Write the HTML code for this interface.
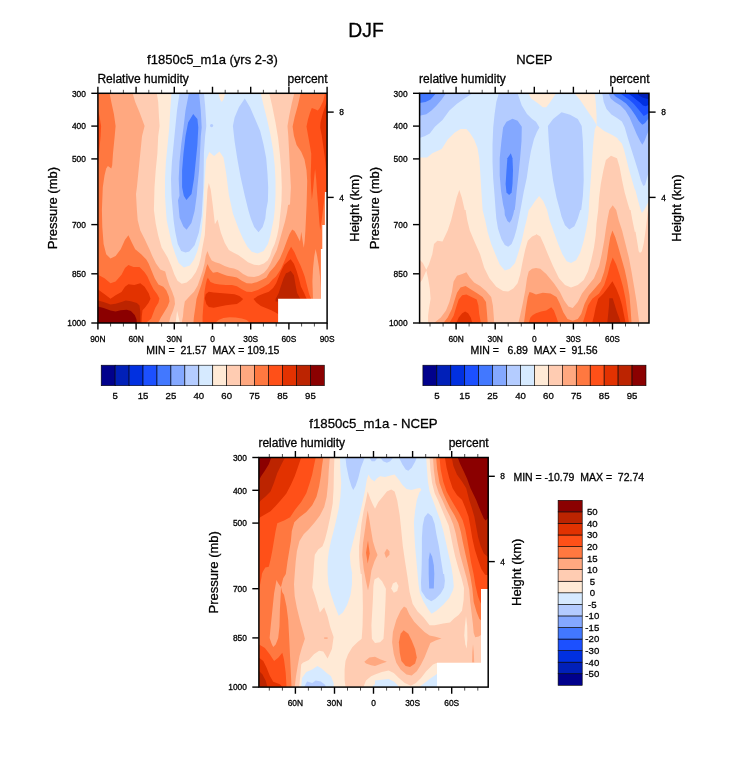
<!DOCTYPE html>
<html><head><meta charset="utf-8">
<style>
html,body{margin:0;padding:0;background:#fff;}
body{width:733px;height:784px;overflow:hidden;position:relative;font-family:"Liberation Sans",sans-serif;}
svg{position:absolute;left:0;top:0;}
text{font-family:"Liberation Sans",sans-serif;fill:#000;stroke:#000;stroke-width:0.3px;}
.fr{fill:none;stroke:#000;stroke-width:1.5}
.tk{stroke:#000;stroke-width:1.4;fill:none}
.tkm{stroke:#000;stroke-width:0.7;fill:none}
</style></head><body>
<svg width="733" height="784" viewBox="0 0 733 784">
<defs>
<clipPath id="c1"><rect x="98" y="93" width="229" height="230"/></clipPath>
<clipPath id="c2"><rect x="419.5" y="93" width="229.5" height="230"/></clipPath>
<clipPath id="c3"><rect x="259" y="457.4" width="229" height="229.6"/></clipPath>
</defs>
<g clip-path="url(#c1)" shape-rendering="geometricPrecision">
<rect x="98" y="93" width="229" height="230" fill="#ffead6"/>
<path fill="#ffccb2" d="M156.8,93.2 L158.2,102.1 L159.1,119.1 L159.6,125.9 L158.2,136.2 L157.4,153.2 L155.7,170.3 L154.5,187.3 L153.9,210.0 L155.7,223.6 L158.2,235.6 L161.6,247.5 L167.6,257.4 L171.3,266.0 L174.4,274.6 L177.5,280.7 L181.7,283.8 L186.7,282.5 L191.6,278.2 L195.9,272.1 L198.9,264.7 L200.8,257.4 L202.0,250.0 L204.8,235.1 L206.1,213.6 L207.5,189.6 L208.8,182.9 L210.7,189.6 L212.8,205.6 L214.9,224.3 L217.6,219.5 L220.8,232.4 L224.8,243.1 L228.9,250.0 L233.2,252.5 L238.2,254.9 L243.1,258.6 L248.0,262.3 L254.1,264.7 L259.0,265.3 L263.9,263.5 L267.6,260.4 L270.1,256.1 L271.9,250.0 L274.7,244.1 L277.2,235.6 L278.9,227.1 L279.8,218.5 L280.7,210.0 L281.5,201.0 L281.8,187.3 L281.2,170.3 L279.8,153.2 L278.1,137.9 L275.5,122.5 L272.1,105.5 L269.2,93.2 L327.0,93.0 L327.0,323.0 L98.0,323.0 L98.0,93.0Z"/>
<path fill="#ffa880" d="M132.6,93.2 L135.2,102.1 L139.5,112.3 L144.6,125.9 L142.0,136.2 L140.3,153.2 L138.6,170.3 L136.9,187.3 L136.0,194.1 L136.9,210.0 L137.7,220.2 L140.3,230.5 L144.6,239.0 L149.8,250.0 L152.3,256.1 L156.0,263.5 L160.3,269.6 L165.2,271.5 L167.0,278.2 L169.5,285.6 L172.2,291.7 L174.4,297.9 L175.0,304.0 L173.2,310.2 L170.7,316.3 L168.9,322.7 L98.0,323.0 L98.0,93.0Z"/>
<path fill="#ffa880" d="M181.7,322.7 L183.0,316.3 L183.6,308.9 L184.8,301.6 L189.1,296.7 L194.0,291.7 L197.7,285.6 L200.2,278.2 L202.6,270.9 L204.5,263.5 L205.7,256.1 L207.3,251.2 L207.5,251.2 L209.3,256.1 L211.8,260.4 L215.4,262.3 L219.7,263.5 L224.6,266.0 L229.6,267.8 L233.9,268.4 L238.2,270.3 L243.1,273.9 L248.0,276.4 L254.1,277.0 L259.0,275.8 L263.9,272.7 L267.6,268.4 L270.7,262.9 L273.1,257.4 L275.6,252.5 L276.8,250.0 L279.9,239.4 L282.4,230.5 L285.0,221.6 L286.9,212.7 L288.1,205.0 L290.0,204.4 L290.9,187.3 L290.0,170.3 L289.2,153.2 L288.3,136.2 L287.5,125.9 L289.2,115.7 L291.7,103.8 L294.3,93.2 L327.0,93.0 L327.0,323.0Z"/>
<path fill="#ff7840" d="M109.6,93.2 L111.3,102.1 L113.9,114.0 L115.6,125.9 L114.7,136.2 L113.0,153.2 L112.2,165.2 L111.3,168.6 L107.9,166.0 L106.2,168.6 L104.5,175.4 L102.8,187.3 L101.9,210.0 L102.3,227.1 L103.6,244.1 L106.2,254.3 L110.5,258.6 L115.6,256.0 L120.7,249.2 L125.0,239.8 L128.4,235.2 L131.8,242.4 L135.2,249.2 L141.2,254.3 L146.3,259.5 L148.6,263.5 L151.7,270.9 L154.7,278.2 L158.4,284.4 L163.3,286.8 L166.4,290.5 L168.9,296.7 L169.5,301.6 L167.6,306.5 L164.6,311.4 L160.9,317.5 L158.2,322.7 L98.0,323.0 L98.0,93.0Z"/>
<path fill="#ff7840" d="M193.4,322.7 L194.0,316.3 L195.3,307.7 L196.5,299.1 L198.9,291.7 L201.4,284.4 L203.2,278.2 L205.1,272.1 L206.3,267.2 L207.3,264.7 L207.5,264.1 L209.9,269.0 L213.0,272.7 L217.3,272.1 L222.2,273.9 L227.1,275.8 L232.0,276.4 L236.9,277.6 L241.8,280.7 L246.7,283.2 L251.7,283.4 L256.6,282.2 L261.5,280.1 L266.4,277.6 L269.7,272.0 L274.8,266.2 L279.9,258.6 L283.7,249.6 L286.9,240.7 L289.4,234.3 L292.2,229.6 L294.5,231.1 L296.4,234.3 L298.4,238.2 L300.0,241.4 L300.6,236.9 L301.3,231.8 L301.8,235.6 L302.8,242.0 L303.8,247.7 L304.7,240.7 L305.4,230.5 L306.0,217.8 L306.6,205.0 L307.2,180.9 L306.5,170.2 L304.5,159.6 L301.2,151.7 L296.6,145.0 L293.9,135.8 L292.6,126.5 L294.6,117.2 L297.9,105.2 L300.6,93.3 L327.0,93.0 L327.0,323.0Z"/>
<path fill="#ffa880" d="M315.6,249.0 L314.3,256.0 L313.0,268.8 L312.4,281.5 L313.0,298.8 L320.7,298.8 L320.7,287.9 L320.0,276.4 L318.8,266.2 L317.1,256.0Z"/>
<path fill="#ff5018" d="M97.7,108.9 L99.4,115.7 L101.1,125.9 L100.6,136.2 L99.4,149.8 L98.2,163.4 L97.7,166.9Z"/>
<path fill="#ff5018" d="M97.7,274.5 L104.5,278.2 L110.5,283.3 L115.6,281.6 L121.5,274.8 L125.0,268.0 L128.4,264.9 L133.5,267.1 L139.5,267.1 L144.6,272.2 L147.4,276.4 L150.4,283.2 L153.5,289.3 L157.2,294.2 L159.4,298.5 L158.4,302.8 L155.3,307.7 L152.9,313.9 L151.1,318.8 L146.1,322.7 L98.0,323.0Z"/>
<path fill="#ff5018" d="M202.6,322.7 L202.6,316.3 L203.2,307.7 L203.9,299.1 L204.5,291.7 L205.7,284.4 L206.9,279.5 L208.1,277.6 L207.7,277.6 L210.5,281.9 L214.8,283.8 L219.7,284.4 L225.9,285.0 L232.0,285.0 L236.9,286.2 L241.8,289.3 L246.7,291.7 L251.7,292.0 L257.8,289.9 L263.9,286.8 L268.9,283.8 L272.5,279.5 L276.0,276.4 L281.1,268.8 L285.0,259.8 L288.1,252.2 L291.1,246.8 L294.5,252.2 L297.1,258.6 L300.3,264.9 L302.8,271.3 L304.7,276.4 L306.6,284.1 L309.2,294.3 L311.1,298.8 L311.1,326.2Z"/>
<path fill="#ff7840" d="M215.4,322.7 L218.5,320.0 L223.4,318.1 L229.6,317.3 L235.7,317.5 L241.8,318.5 L246.7,320.0 L249.8,322.7Z"/>
<path fill="#ff5018" d="M325.1,93.3 L323.1,101.3 L319.8,107.9 L317.8,110.6 L315.2,109.2 L311.8,107.9 L309.8,113.2 L307.9,119.8 L306.5,126.5 L307.9,134.4 L309.8,145.0 L311.8,157.0 L312.5,167.6 L311.3,150.0 L311.1,162.8 L310.7,175.5 L311.1,188.3 L311.9,199.7 L313.2,188.3 L314.1,178.1 L315.1,169.1 L316.2,179.3 L317.0,192.1 L318.3,207.4 L319.3,221.4 L320.2,230.4 L321.5,221.4 L322.8,211.2 L324.1,201.0 L325.1,192.1 L327.0,192.0 L327.0,93.0Z"/>
<path fill="#e23200" d="M327.2,99.9 L325.1,106.6 L322.5,114.5 L320.5,122.5 L320.2,127.8 L321.8,135.8 L323.1,145.0 L324.4,154.3 L325.4,162.3 L326.0,170.2 L326.4,180.9 L326.8,192.0 L327.8,192.0Z"/>
<path fill="#e23200" d="M97.7,289.3 L103.6,293.6 L110.5,298.7 L115.6,295.3 L121.5,291.9 L125.0,286.7 L128.4,284.2 L134.3,285.0 L140.3,283.3 L144.6,286.7 L148.8,293.6 L150.5,298.7 L148.6,302.8 L144.9,307.7 L142.5,310.2 L141.8,316.3 L141.5,322.7 L98.0,323.0Z"/>
<path fill="#bc2400" d="M97.7,300.4 L103.6,302.1 L110.5,304.6 L115.6,303.8 L121.5,302.1 L125.8,300.4 L130.9,301.2 L136.9,302.9 L139.5,305.5 L140.3,312.3 L140.3,322.9 L97.7,322.9Z"/>
<path fill="#8b0000" d="M97.7,306.4 L103.6,308.1 L110.5,310.6 L115.6,311.5 L120.7,310.3 L126.7,309.8 L130.9,311.0 L134.7,314.9 L136.4,319.1 L136.9,322.9 L97.7,322.9Z"/>
<path fill="#e23200" d="M204.8,298.5 L205.7,294.2 L208.8,291.7 L213.7,292.4 L219.8,293.0 L226.0,293.6 L234.5,294.2 L239.4,296.0 L243.1,299.1 L240.6,301.6 L236.9,304.0 L232.0,304.6 L226.0,305.3 L219.8,306.5 L213.7,307.7 L208.8,307.1 L206.3,304.0Z"/>
<path fill="#e23200" d="M253.5,299.1 L257.8,296.0 L263.9,293.6 L268.9,291.7 L273.1,288.1 L276.2,283.2 L278.7,277.0 L281.1,270.9 L284.2,264.7 L288.4,261.1 L290.7,259.2 L293.9,263.7 L296.7,271.3 L299.0,279.0 L300.9,286.6 L304.1,293.0 L306.6,298.8 L306.6,313.4 L278.1,313.9 L275.6,312.6 L271.3,310.2 L266.4,308.3 L260.9,305.9 L256.6,302.8Z"/>
<path fill="#bc2400" d="M275.6,298.9 L278.7,293.0 L281.1,285.6 L283.6,278.2 L286.0,273.3 L288.1,272.6 L290.7,270.7 L293.9,275.2 L295.4,284.1 L297.1,293.0 L300.3,298.8 L300.3,301.9 L275.6,301.6Z"/>
<path fill="#d6eaff" d="M171.5,93.2 L170.2,110.6 L169.3,127.6 L167.6,144.7 L165.9,161.7 L165.0,178.8 L165.0,195.8 L165.9,210.0 L166.7,220.2 L169.3,232.2 L171.9,244.1 L175.3,254.3 L178.7,262.9 L183.8,267.6 L189.8,265.4 L194.0,259.5 L197.4,250.9 L200.0,240.7 L201.7,230.5 L202.6,220.2 L203.4,210.0 L204.2,186.9 L206.1,160.1 L209.3,152.1 L214.1,156.1 L219.5,151.6 L223.5,157.5 L226.2,173.5 L228.9,194.9 L232.9,213.6 L238.9,229.6 L243.1,239.0 L247.4,246.7 L251.7,251.8 L257.6,253.5 L263.6,250.9 L267.9,244.1 L270.4,235.6 L272.1,227.1 L273.8,218.5 L274.7,210.0 L275.5,195.8 L275.5,180.5 L274.7,165.2 L273.0,149.8 L270.4,134.5 L267.0,119.1 L263.6,105.5 L260.7,93.2Z"/>
<path fill="#b4ccff" d="M179.5,93.2 L177.0,110.6 L175.3,127.6 L173.6,144.7 L171.9,161.7 L171.0,178.8 L171.5,195.8 L172.7,210.0 L173.6,220.2 L175.3,232.2 L177.8,244.1 L181.2,250.9 L185.5,252.6 L189.3,251.6 L194.6,245.2 L198.9,232.4 L201.6,216.3 L202.6,200.3 L203.4,186.9 L203.7,170.8 L203.9,153.2 L205.1,136.2 L206.3,125.9 L206.0,119.1 L205.1,105.5 L203.9,93.2Z"/>
<path fill="#84a8ff" d="M188.9,93.2 L185.5,110.6 L183.5,127.6 L181.2,144.7 L179.5,161.7 L178.7,178.8 L179.5,195.8 L178.0,200.3 L179.6,217.7 L183.4,226.5 L186.6,229.7 L191.4,223.0 L194.6,211.0 L196.8,194.9 L197.4,187.3 L199.1,170.3 L200.0,153.2 L200.8,136.2 L201.7,127.6 L200.8,110.6 L199.1,93.2Z"/>
<path fill="#4278ff" d="M193.2,114.0 L188.1,122.5 L185.5,136.2 L183.5,153.2 L182.1,170.3 L182.1,187.3 L183.8,195.8 L186.4,200.1 L191.5,194.1 L194.0,178.8 L195.7,161.7 L197.4,144.7 L198.3,127.6 L197.4,119.1Z"/>
<path fill="#b4ccff" d="M244.8,98.6 L238.9,107.2 L234.6,117.4 L232.9,125.9 L234.6,141.3 L237.2,158.3 L240.6,177.1 L244.8,195.8 L248.3,210.0 L250.8,218.5 L254.2,227.1 L258.5,232.2 L262.7,227.1 L265.3,218.5 L266.2,210.0 L267.9,201.0 L268.2,187.3 L267.5,173.7 L266.2,158.3 L263.6,144.7 L260.2,131.0 L255.1,119.1 L250.0,107.2Z"/>
<path fill="#ffead6" d="M177.1,310.8 L175.6,322.7 L179.9,322.7Z"/>
<path fill="#ffead6" d="M218.4,93.2 L220.1,99.5 L221.8,102.1 L223.5,99.5 L225.2,93.2Z"/>
<circle cx="211.6" cy="125.6" r="1.6" fill="#b4ccff"/>
<path fill="#fff" d="M278.1,298.8H320.9V249H322.3V225H324.9V192H328V324H278.1Z"/>
</g>
<g clip-path="url(#c2)">
<rect x="419.5" y="93" width="229.5" height="230" fill="#ffead6"/>
<path fill="#ffccb2" d="M419.5,259.5 L422.9,262.9 L426.3,269.7 L428.9,264.6 L432.3,254.3 L434.0,244.1 L437.4,240.7 L442.5,241.5 L447.7,230.5 L451.1,220.2 L453.6,210.0 L456.7,197.6 L459.3,189.9 L461.8,197.6 L464.7,210.0 L465.6,210.0 L467.3,220.2 L469.8,230.5 L474.9,242.4 L480.1,254.3 L484.3,268.0 L489.4,278.2 L496.3,286.7 L503.1,291.0 L508.2,291.5 L513.3,288.4 L517.6,283.3 L520.1,274.8 L522.7,261.2 L525.3,249.2 L527.8,240.7 L532.1,236.4 L536.0,234.7 L536.0,233.9 L540.3,236.4 L543.7,244.1 L547.9,254.3 L553.1,266.3 L559.0,278.2 L565.0,285.0 L571.0,287.6 L577.8,285.0 L583.7,279.9 L588.0,271.4 L591.4,259.5 L594.0,247.5 L595.7,235.6 L596.5,223.6 L598.2,210.0 L598.2,210.0 L599.1,197.6 L600.8,183.9 L603.4,170.3 L605.9,160.0 L611.0,155.8 L617.0,158.3 L619.6,166.9 L622.1,180.5 L624.7,192.4 L628.1,204.4 L629.8,210.0 L630.6,210.0 L632.4,220.2 L634.9,232.2 L635.5,231.4 L637.4,242.9 L638.7,251.2 L640.0,253.1 L641.9,251.2 L643.8,242.9 L645.1,234.0 L646.4,223.8 L647.6,213.6 L648.9,204.6 L649.0,323.0 L428.1,322.9 L428.1,315.7 L428.9,308.9 L430.6,298.7 L429.8,288.4 L428.1,278.2 L426.3,270.5 L422.1,279.9 L419.5,283.3Z"/>
<path fill="#ffa880" d="M434.0,322.9 L440.8,317.4 L446.0,310.6 L449.4,302.1 L451.9,291.9 L453.6,281.6 L457.0,275.7 L462.2,273.9 L466.4,272.2 L469.8,277.4 L474.1,282.5 L480.1,285.9 L486.0,291.0 L491.2,297.0 L492.9,305.5 L493.7,315.7 L494.2,322.9Z"/>
<path fill="#ffa880" d="M518.4,322.9 L520.1,315.7 L522.7,303.8 L525.3,290.2 L527.0,278.2 L528.7,271.4 L532.1,268.8 L536.0,268.0 L540.3,268.8 L546.2,273.9 L553.9,283.3 L559.9,291.9 L564.1,300.4 L568.4,306.4 L572.7,308.1 L577.8,302.1 L582.0,293.6 L587.2,286.7 L594.0,278.2 L599.1,266.3 L601.7,254.3 L604.2,240.7 L605.9,228.8 L607.6,218.5 L609.3,210.0 L609.3,210.0 L612.7,205.2 L616.2,210.0 L618.7,220.2 L622.1,230.5 L625.5,244.1 L628.9,257.7 L631.5,271.4 L634.1,286.7 L636.6,302.1 L638.3,315.7 L639.2,322.6Z"/>
<path fill="#ff7840" d="M443.4,322.9 L447.7,317.4 L451.9,308.9 L454.5,300.4 L457.0,292.7 L460.5,287.6 L465.6,285.9 L470.7,289.3 L477.5,293.6 L482.6,297.0 L486.0,302.1 L486.9,312.3 L487.7,322.9Z"/>
<path fill="#ff7840" d="M523.9,322.9 L524.9,315.7 L526.1,307.2 L527.8,297.0 L529.5,291.9 L532.1,292.7 L536.0,294.4 L542.8,292.7 L550.5,293.6 L556.5,297.0 L559.9,303.8 L563.3,312.3 L567.5,319.1 L572.7,320.8 L577.8,319.1 L581.2,314.0 L584.6,303.8 L588.9,295.3 L594.8,288.4 L600.8,281.6 L604.2,271.4 L606.8,259.5 L608.5,247.5 L610.2,237.3 L612.4,230.5 L615.3,237.3 L617.9,245.8 L621.3,257.7 L624.7,269.7 L627.2,281.6 L629.5,295.3 L630.6,308.9 L631.5,322.6Z"/>
<path fill="#ff5018" d="M449.4,322.9 L453.6,315.7 L456.2,307.2 L458.7,299.5 L462.2,295.3 L466.4,294.4 L471.5,297.0 L476.7,299.5 L478.4,305.5 L479.2,314.0 L480.9,322.9Z"/>
<path fill="#ff5018" d="M528.7,322.9 L530.4,317.4 L532.9,314.9 L536.0,313.2 L541.1,311.5 L546.2,310.6 L551.3,307.2 L553.9,310.6 L556.5,317.4 L558.2,322.6Z"/>
<path fill="#ff5018" d="M582.9,322.6 L585.5,314.0 L588.0,305.5 L592.3,298.7 L599.1,293.6 L604.2,285.0 L607.6,274.8 L610.2,264.6 L612.7,257.4 L616.2,264.6 L619.6,274.8 L623.0,286.7 L625.5,298.7 L627.2,310.6 L628.9,322.6Z"/>
<path fill="#e23200" d="M456.2,322.9 L458.7,317.4 L462.2,313.2 L465.2,311.5 L468.1,313.2 L470.7,317.4 L472.4,322.9Z"/>
<path fill="#e23200" d="M592.3,322.6 L594.0,315.7 L595.7,307.2 L598.2,298.7 L603.4,293.6 L608.5,286.7 L612.4,281.3 L616.2,288.4 L619.6,297.0 L622.1,305.5 L623.8,314.0 L625.5,322.6Z"/>
<path fill="#bc2400" d="M607.3,322.6 L608.0,315.7 L609.0,305.5 L609.3,298.3 L612.7,298.3 L614.4,303.8 L617.0,312.3 L619.6,319.1 L620.4,322.6Z"/>
<path fill="#d6eaff" d="M419.5,157.5 L427.2,157.5 L432.3,153.2 L441.7,148.9 L447.7,139.6 L454.5,132.7 L460.5,129.0 L466.4,129.0 L469.8,132.7 L474.1,139.6 L477.5,148.1 L479.2,158.3 L480.1,170.3 L481.1,187.3 L482.6,210.0 L485.2,220.2 L487.7,232.2 L491.2,244.1 L495.4,254.3 L499.7,264.6 L504.8,270.5 L509.9,268.8 L515.0,262.9 L518.4,252.6 L521.8,240.7 L524.4,228.8 L527.0,218.5 L528.7,210.0 L531.2,206.9 L534.6,201.8 L539.1,196.0 L543.2,201.1 L547.1,210.0 L549.6,220.2 L553.9,232.2 L558.2,244.1 L562.4,254.3 L566.7,261.2 L571.0,262.9 L576.1,260.3 L580.3,252.6 L583.7,240.7 L586.3,228.8 L588.0,218.5 L588.9,210.0 L588.7,210.0 L589.2,201.0 L590.2,187.3 L591.4,170.3 L592.3,156.6 L593.5,141.3 L594.8,129.3 L596.7,125.2 L593.1,119.1 L587.2,110.6 L580.3,100.3 L574.4,93.2 L556.1,93.2 L553.1,97.8 L549.6,102.9 L546.2,107.2 L542.8,107.2 L538.6,103.8 L531.2,98.6 L528.3,93.2 L419.5,93.2Z"/>
<path fill="#d6eaff" d="M596.7,125.2 L604.2,131.0 L612.7,135.3 L619.6,139.6 L617.0,138.5 L621.9,143.4 L624.0,149.7 L626.1,158.1 L628.9,169.3 L631.7,179.1 L634.6,188.9 L635.5,190.6 L638.1,200.8 L640.6,209.7 L641.9,212.9 L643.8,210.4 L646.4,205.9 L648.9,200.8 L649.0,93.0 L594.8,93.2 L595.7,102.1 L596.5,114.0Z"/>
<path fill="#b4ccff" d="M419.5,137.9 L424.6,136.2 L429.8,133.6 L434.9,126.8 L442.5,120.0 L449.4,110.6 L457.0,103.8 L465.6,97.8 L470.7,94.4 L472.4,93.2 L419.5,93.2Z"/>
<path fill="#b4ccff" d="M498.8,93.2 L496.3,102.1 L494.6,114.0 L493.2,127.6 L492.5,144.7 L492.5,161.7 L493.2,178.8 L494.6,195.8 L495.6,210.0 L496.3,218.5 L498.0,228.8 L501.4,239.0 L504.8,245.0 L508.2,246.7 L511.6,244.1 L514.3,237.3 L516.7,228.8 L518.8,218.5 L520.7,208.5 L523.7,191.9 L526.8,177.8 L528.8,163.4 L530.9,151.2 L534.0,139.1 L536.9,131.9 L539.4,127.6 L536.0,121.7 L532.1,119.1 L527.0,114.0 L521.8,105.5 L517.6,93.2Z"/>
<path fill="#b4ccff" d="M561.6,112.3 L553.1,119.1 L547.9,125.9 L548.8,141.3 L550.5,161.7 L553.1,180.5 L556.5,197.6 L559.9,210.0 L561.6,216.8 L565.0,225.3 L569.3,229.6 L574.4,226.2 L577.8,218.5 L580.3,210.0 L581.2,210.0 L582.9,195.8 L583.7,180.5 L583.4,161.7 L582.9,141.3 L581.7,125.9 L577.8,119.1 L570.1,114.8Z"/>
<path fill="#b4ccff" d="M602.3,93.6 L603.7,102.0 L606.5,109.0 L611.4,114.6 L617.0,118.1 L621.9,121.6 L624.7,127.3 L627.5,137.1 L631.0,148.3 L634.6,159.5 L638.1,170.7 L640.9,180.5 L642.5,184.2 L643.4,186.1 L645.1,184.9 L647.0,177.9 L648.9,171.5 L649.0,93.0Z"/>
<path fill="#84a8ff" d="M419.5,115.7 L426.3,114.3 L431.5,110.6 L436.6,105.5 L441.7,99.5 L445.1,94.4 L446.0,93.2 L419.5,93.2Z"/>
<path fill="#84a8ff" d="M512.5,118.8 L506.5,121.7 L503.1,127.6 L501.4,141.3 L499.7,158.3 L499.7,175.4 L501.0,190.7 L503.1,204.4 L504.5,210.0 L504.8,215.1 L507.4,221.1 L509.6,222.8 L511.6,219.4 L513.3,214.3 L514.2,210.0 L514.7,210.0 L515.4,204.4 L516.7,190.7 L518.4,175.4 L520.1,158.3 L521.5,141.3 L521.8,126.8 L517.6,120.8Z"/>
<path fill="#84a8ff" d="M608.6,93.6 L610.7,98.5 L614.9,102.0 L620.5,105.5 L625.4,110.4 L629.6,117.4 L633.2,125.9 L636.7,134.3 L640.2,141.3 L642.3,144.8 L644.4,141.3 L646.5,135.7 L649.0,130.1 L649.0,93.6Z"/>
<path fill="#4278ff" d="M419.5,102.9 L425.5,102.1 L430.6,99.5 L434.9,94.4 L435.7,93.2 L419.5,93.2Z"/>
<path fill="#4278ff" d="M510.8,153.2 L507.4,158.3 L506.5,170.3 L505.6,183.9 L506.5,192.4 L509.1,195.0 L511.6,192.4 L512.5,183.9 L513.0,170.3 L512.5,158.3Z"/>
<path fill="#4278ff" d="M612.8,93.6 L615.6,96.4 L621.2,99.9 L626.1,103.4 L631.0,109.0 L635.3,115.3 L638.8,120.9 L642.3,124.7 L645.1,123.0 L647.2,120.2 L649.0,118.1 L649.0,93.6Z"/>
<path fill="#1c50ff" d="M620.5,93.6 L624.7,96.4 L629.6,99.9 L633.9,104.1 L638.1,109.0 L641.6,113.2 L643.7,116.0 L646.5,114.6 L649.0,112.5 L649.0,93.6Z"/>
<path fill="#0030e0" d="M628.2,93.6 L632.5,96.4 L636.7,99.9 L640.2,102.7 L643.0,105.5 L645.8,106.2 L649.0,104.8 L649.0,93.6Z"/>
<path fill="#0020b8" d="M636.7,93.6 L639.5,95.7 L643.0,97.8 L645.8,98.5 L649.0,99.2 L649.0,93.6Z"/>
</g>
<g clip-path="url(#c3)">
<rect x="259" y="457.4" width="229" height="229.6" fill="#ffccb2"/>
<path fill="#ffead6" d="M334.4,457.5 L333.9,471.2 L333.6,488.2 L332.7,503.6 L330.2,517.2 L327.6,529.2 L325.0,539.4 L322.5,546.2 L318.2,549.6 L314.8,554.7 L313.9,565.0 L313.4,574.0 L312.2,587.6 L315.7,597.9 L319.9,612.4 L324.2,607.3 L327.6,616.6 L330.2,626.9 L333.6,637.1 L331.9,649.0 L327.6,658.4 L323.3,651.6 L319.1,650.7 L313.9,654.2 L308.8,660.1 L302.9,662.7 L301.2,664.4 L300.3,676.3 L299.1,686.9 L345.5,686.9 L344.6,679.7 L344.6,669.5 L345.5,661.0 L348.1,654.2 L352.3,647.3 L357.4,642.2 L361.7,638.8 L362.6,625.2 L362.9,608.1 L362.6,591.1 L361.7,574.0 L360.8,574.0 L359.8,566.7 L359.1,556.4 L359.1,546.2 L360.2,536.0 L361.4,524.0 L363.4,512.1 L366.0,500.2 L367.7,491.6 L370.2,498.5 L372.8,504.4 L375.0,508.7 L378.4,501.9 L382.7,496.7 L386.9,491.6 L391.2,489.6 L394.6,491.6 L397.2,500.2 L399.7,515.3 L401.3,530.7 L402.8,545.9 L405.0,561.2 L407.4,576.6 L409.6,591.9 L412.7,604.0 L417.6,611.5 L423.6,617.5 L429.6,625.2 L434.7,625.2 L443.2,623.5 L450.0,622.6 L454.3,618.3 L458.6,614.9 L462.0,610.7 L463.7,599.6 L464.0,588.1 L461.5,577.9 L458.3,567.7 L455.1,556.2 L452.6,544.7 L450.6,534.5 L448.7,525.5 L445.5,517.9 L441.7,508.9 L437.9,500.0 L434.7,493.3 L432.1,483.1 L430.4,469.5 L429.6,457.5Z"/>
<path fill="#ffead6" d="M378.3,577.3 L374.5,579.6 L373.4,585.8 L372.9,599.5 L371.4,625.2 L371.9,638.8 L375.0,643.1 L380.1,642.2 L383.5,638.8 L384.4,625.2 L385.2,608.1 L385.6,599.6 L385.9,588.8 L382.1,581.2Z"/>
<path fill="#ffead6" d="M391.2,588.5 L392.9,583.4 L396.3,581.7 L398.5,585.9 L397.2,591.1 L393.8,592.8Z"/>
<path fill="#ffead6" d="M363.4,686.9 L366.0,680.6 L371.1,676.3 L375.0,674.6 L381.8,672.1 L388.6,670.4 L393.8,672.9 L398.9,678.0 L404.8,683.1 L410.8,685.7 L415.9,683.1 L421.0,678.0 L426.2,671.2 L433.0,664.4 L437.2,662.7 L437.2,686.9Z"/>
<path fill="#ffead6" d="M466.0,616.1 L464.9,625.9 L464.3,635.8 L465.3,644.2 L466.7,648.4 L467.4,638.6 L467.2,625.9Z"/>
<path fill="#d6eaff" d="M340.0,457.5 L340.4,471.2 L341.2,483.1 L340.4,496.7 L338.7,508.7 L336.1,520.6 L333.6,530.9 L331.0,541.1 L328.8,551.3 L327.6,561.6 L327.6,574.0 L328.4,584.2 L331.0,594.5 L334.4,604.7 L338.7,615.8 L342.9,612.4 L347.2,604.7 L350.6,594.5 L352.0,584.2 L352.0,574.0 L352.3,574.0 L350.6,565.0 L349.8,554.7 L352.3,544.5 L354.9,534.3 L357.4,524.0 L360.0,513.8 L362.6,501.9 L365.1,489.9 L366.8,479.7 L368.5,474.6 L370.9,479.0 L374.5,481.4 L377.0,478.3 L380.1,476.3 L385.2,477.1 L390.3,475.4 L394.6,474.6 L398.9,479.7 L402.3,484.8 L406.5,489.1 L411.7,489.9 L416.8,488.6 L420.2,487.9 L421.4,489.9 L419.3,492.5 L416.8,500.2 L415.1,510.4 L413.9,522.3 L414.4,534.3 L415.2,547.9 L416.3,559.8 L417.6,574.0 L418.5,584.2 L419.8,592.8 L423.3,601.3 L428.5,609.8 L431.6,613.7 L436.4,610.7 L443.2,604.7 L449.2,597.9 L452.6,591.1 L453.8,586.8 L452.9,576.6 L451.3,566.4 L448.7,554.9 L446.2,543.4 L443.6,531.9 L440.4,520.4 L436.6,510.2 L432.8,500.0 L429.6,491.6 L427.9,481.4 L427.0,469.5 L426.2,457.5Z"/>
<path fill="#d6eaff" d="M301.2,686.9 L302.0,678.0 L306.3,672.1 L312.2,669.5 L317.4,666.1 L321.6,668.6 L326.7,672.9 L331.0,676.3 L333.6,683.1 L333.6,686.9Z"/>
<path fill="#d6eaff" d="M371.9,686.9 L375.0,684.0 L375.0,680.6 L381.8,679.7 L388.6,678.9 L393.8,681.4 L397.2,684.8 L398.9,686.9Z"/>
<path fill="#d6eaff" d="M419.3,686.9 L424.5,683.1 L429.6,678.9 L434.7,675.5 L437.2,673.8 L437.2,686.9Z"/>
<path fill="#b4ccff" d="M345.5,457.5 L346.4,466.1 L348.9,478.0 L351.5,486.5 L353.2,489.9 L355.7,485.7 L358.3,478.0 L360.8,467.8 L363.4,460.9 L364.6,457.5Z"/>
<path fill="#b4ccff" d="M369.2,457.5 L371.7,461.3 L374.9,461.3 L377.9,457.5Z"/>
<path fill="#b4ccff" d="M380.2,457.5 L383.1,461.3 L386.9,462.7 L390.2,461.3 L393.2,457.5Z"/>
<path fill="#b4ccff" d="M398.9,457.5 L402.3,464.3 L405.7,469.5 L408.3,470.8 L411.7,467.8 L415.1,461.8 L416.8,457.5Z"/>
<path fill="#b4ccff" d="M427.9,512.9 L424.5,517.2 L422.7,525.7 L421.9,537.7 L421.9,551.3 L421.7,565.0 L421.4,574.0 L421.0,582.5 L421.4,591.1 L426.2,598.2 L431.3,601.3 L435.5,598.7 L440.7,593.6 L444.1,587.6 L444.9,580.8 L444.1,574.0 L443.2,574.0 L442.4,568.4 L440.7,558.1 L438.9,546.2 L436.4,534.3 L434.7,524.0 L432.1,516.4Z"/>
<path fill="#b4ccff" d="M304.2,686.9 L307.1,681.4 L312.2,683.1 L315.7,680.6 L320.8,681.4 L325.0,684.8 L325.9,686.9Z"/>
<path fill="#84a8ff" d="M429.9,552.2 L428.7,559.8 L428.7,574.0 L429.2,588.5 L433.8,588.5 L434.3,574.0 L434.3,574.0 L433.8,565.0 L432.1,556.4Z"/>
<path fill="#ffa880" d="M329.8,457.5 L328.8,469.5 L328.1,483.1 L326.7,496.7 L324.2,507.0 L319.9,515.5 L314.8,522.3 L308.8,529.2 L303.7,534.3 L299.5,541.1 L296.9,551.3 L295.7,561.6 L294.7,574.0 L294.0,584.2 L294.7,596.2 L296.9,608.1 L300.3,621.7 L303.7,633.7 L304.9,638.8 L302.0,647.3 L299.5,655.9 L297.7,666.1 L296.0,676.3 L294.7,686.9 L259.0,687.0 L259.0,457.4Z"/>
<path fill="#ffa880" d="M367.7,510.4 L366.3,519.9 L365.3,527.6 L363.0,542.9 L362.2,555.1 L363.7,568.9 L366.0,581.2 L368.0,590.4 L369.9,581.2 L371.4,570.4 L374.5,561.3 L377.5,555.1 L375.2,549.0 L372.9,541.3 L370.6,527.6 L369.4,519.9Z"/>
<path fill="#ff7840" d="M368.0,540.6 L366.0,552.8 L367.7,563.6 L369.7,553.6Z"/>
<path fill="#ffa880" d="M386.9,548.8 L384.4,553.0 L386.1,558.1 L389.5,554.7 L389.5,551.3Z"/>
<path fill="#ffa880" d="M364.3,661.8 L369.4,657.6 L375.0,656.7 L380.1,659.3 L386.9,661.8 L381.8,663.5 L375.0,666.1 L371.1,665.2 L366.0,663.5Z"/>
<path fill="#ffa880" d="M404.0,606.4 L400.6,610.7 L396.3,620.0 L392.9,632.0 L392.1,642.2 L393.8,654.2 L396.3,662.7 L400.6,669.5 L406.5,674.6 L411.7,675.5 L416.8,671.2 L421.0,664.4 L424.5,657.6 L427.9,649.0 L430.4,643.1 L435.5,640.5 L441.5,638.5 L435.5,636.8 L429.6,635.4 L424.5,632.0 L419.3,626.9 L414.2,621.7 L409.1,614.1 L406.5,608.1Z"/>
<path fill="#ff7840" d="M403.6,630.3 L400.6,633.7 L398.9,642.2 L399.7,652.4 L401.4,661.0 L405.7,666.1 L410.0,666.9 L415.1,663.5 L416.8,657.6 L415.1,649.0 L411.7,640.5 L408.3,633.7Z"/>
<path fill="#ffa880" d="M324.2,637.4 L327.6,637.4 L327.6,638.8 L324.2,638.8Z"/>
<path fill="#ffa880" d="M433.0,457.5 L433.8,469.5 L435.5,483.1 L438.9,493.3 L442.3,500.0 L446.2,508.9 L450.0,516.6 L453.2,524.3 L455.7,533.2 L457.7,543.4 L460.2,554.9 L463.4,566.4 L466.6,577.9 L469.2,589.4 L470.2,602.1 L471.6,613.3 L472.8,623.1 L473.7,633.0 L475.2,637.2 L478.7,636.5 L481.0,635.1 L488.0,640.0 L488.0,457.4Z"/>
<path fill="#ffa880" d="M473.0,644.2 L472.3,652.6 L472.1,662.4 L474.2,662.4 L473.7,651.2Z"/>
<path fill="#ff7840" d="M323.3,457.5 L322.0,466.1 L320.8,476.3 L319.1,486.5 L316.5,496.7 L312.2,505.3 L306.3,512.1 L299.5,517.2 L294.3,522.3 L291.8,530.9 L290.9,541.1 L289.2,551.3 L287.5,561.6 L285.8,574.0 L285.8,574.1 L283.2,578.2 L281.0,586.9 L282.3,592.3 L284.0,594.8 L286.5,606.4 L288.2,619.7 L289.0,634.6 L289.8,651.2 L290.6,667.7 L291.5,686.8 L259.0,687.0 L259.0,457.4Z"/>
<path fill="#ffa880" d="M276.5,579.9 L274.1,593.2 L272.4,609.7 L270.7,626.3 L269.6,637.9 L271.6,643.7 L273.2,647.0 L275.7,644.5 L278.2,637.9 L279.5,626.3 L279.9,609.7 L280.7,594.8 L281.0,587.3 L278.2,583.2Z"/>
<path fill="#ff7840" d="M436.1,457.5 L437.2,469.5 L439.5,483.1 L443.2,493.3 L446.2,500.0 L450.0,507.7 L454.5,515.3 L458.3,523.0 L460.9,531.9 L462.8,542.1 L465.3,553.6 L467.9,565.1 L470.4,576.6 L472.3,588.1 L473.7,602.1 L476.6,611.9 L479.4,618.9 L481.0,620.3 L488.0,620.0 L488.0,457.4Z"/>
<path fill="#ff5018" d="M315.7,457.5 L313.9,466.1 L312.2,474.6 L309.7,483.1 L306.3,493.3 L301.2,501.9 L295.2,509.5 L290.1,517.2 L284.1,520.6 L277.3,523.2 L275.6,530.9 L273.9,541.1 L272.2,551.3 L270.5,559.8 L268.8,566.7 L265.3,567.5 L262.8,571.8 L261.9,574.0 L261.6,576.6 L260.0,584.9 L259.1,588.2 L259.0,457.4Z"/>
<path fill="#ff5018" d="M259.1,644.5 L264.9,647.9 L269.9,654.5 L274.1,661.1 L278.2,657.8 L282.3,652.8 L284.0,659.5 L285.7,672.7 L286.5,686.8 L259.1,686.8Z"/>
<path fill="#ff5018" d="M439.5,457.5 L440.7,469.5 L443.2,481.4 L446.6,491.6 L451.3,500.0 L455.1,506.4 L458.9,512.8 L462.8,520.4 L465.3,529.4 L467.2,539.6 L469.2,551.1 L471.1,562.6 L473.6,574.0 L475.5,585.5 L478.0,596.5 L480.1,602.1 L481.0,603.5 L488.0,600.0 L488.0,457.4Z"/>
<path fill="#e23200" d="M301.2,457.5 L297.7,467.8 L294.7,476.3 L290.9,484.8 L286.2,493.7 L280.7,500.2 L275.6,506.1 L270.5,511.2 L264.5,514.7 L260.2,517.2 L258.9,518.9 L258.9,457.5Z"/>
<path fill="#e23200" d="M259.1,657.8 L263.3,661.1 L266.6,667.7 L269.9,676.0 L273.2,681.8 L279.9,684.3 L282.3,686.8 L259.1,686.8Z"/>
<path fill="#e23200" d="M444.9,457.5 L446.6,467.8 L449.2,478.0 L452.6,488.2 L456.9,495.0 L462.1,500.0 L465.3,507.7 L468.5,516.6 L470.4,526.8 L472.3,538.3 L474.9,549.8 L478.1,560.0 L481.3,568.9 L485.1,574.7 L488.9,575.3 L488.0,457.4Z"/>
<path fill="#bc2400" d="M285.0,457.5 L281.5,464.3 L277.3,472.9 L273.9,483.1 L270.5,491.6 L265.3,496.7 L261.1,500.2 L258.9,502.7 L258.9,457.5Z"/>
<path fill="#bc2400" d="M259.1,671.1 L262.5,674.4 L265.8,681.0 L267.4,686.8 L259.1,686.8Z"/>
<path fill="#bc2400" d="M451.7,457.5 L453.4,466.1 L456.9,474.6 L462.0,481.4 L466.2,488.2 L469.2,500.0 L471.7,507.7 L474.3,516.6 L476.2,526.8 L478.1,537.0 L480.6,546.0 L483.8,553.6 L488.9,557.7 L489.3,457.5Z"/>
<path fill="#8b0000" d="M271.3,457.5 L268.8,464.3 L264.5,471.2 L261.1,476.3 L258.9,480.5 L258.9,457.5Z"/>
<path fill="#8b0000" d="M457.7,457.5 L460.3,464.3 L463.7,471.2 L467.1,478.8 L470.5,488.2 L476.2,500.0 L478.7,506.4 L481.3,512.8 L483.8,518.5 L485.7,520.4 L488.9,517.2 L489.3,457.5Z"/>
<path fill="#fff" d="M437,662.7H481V588.9H489V688H437Z"/>
</g>
<g style="opacity:0.999">
<text x="366.0" y="37.3" font-size="19.3" text-anchor="middle" xml:space="preserve">DJF</text>
<rect class="fr" x="97.9" y="93.3" width="229.2" height="229.7"/>
<text x="212.5" y="64.1" font-size="13" text-anchor="middle" xml:space="preserve">f1850c5_m1a (yrs 2-3)</text>
<text x="97.4" y="83.2" font-size="12" text-anchor="start" xml:space="preserve">Relative humidity</text>
<text x="327.6" y="83.2" font-size="12" text-anchor="end" xml:space="preserve">percent</text>
<path class="tk" d="M327.1,323.0v6.6M327.1,93.3v-6.6"/>
<text x="327.1" y="342.2" font-size="8.4" text-anchor="middle" xml:space="preserve">90S</text>
<path class="tkm" d="M314.4,323.0v3.5M314.4,93.3v-3.5"/>
<path class="tkm" d="M301.6,323.0v3.5M301.6,93.3v-3.5"/>
<path class="tk" d="M288.9,323.0v6.6M288.9,93.3v-6.6"/>
<text x="288.9" y="342.2" font-size="8.4" text-anchor="middle" xml:space="preserve">60S</text>
<path class="tkm" d="M276.2,323.0v3.5M276.2,93.3v-3.5"/>
<path class="tkm" d="M263.4,323.0v3.5M263.4,93.3v-3.5"/>
<path class="tk" d="M250.7,323.0v6.6M250.7,93.3v-6.6"/>
<text x="250.7" y="342.2" font-size="8.4" text-anchor="middle" xml:space="preserve">30S</text>
<path class="tkm" d="M238.0,323.0v3.5M238.0,93.3v-3.5"/>
<path class="tkm" d="M225.2,323.0v3.5M225.2,93.3v-3.5"/>
<path class="tk" d="M212.5,323.0v6.6M212.5,93.3v-6.6"/>
<text x="212.5" y="342.2" font-size="8.4" text-anchor="middle" xml:space="preserve">0</text>
<path class="tkm" d="M199.8,323.0v3.5M199.8,93.3v-3.5"/>
<path class="tkm" d="M187.0,323.0v3.5M187.0,93.3v-3.5"/>
<path class="tk" d="M174.3,323.0v6.6M174.3,93.3v-6.6"/>
<text x="174.3" y="342.2" font-size="8.4" text-anchor="middle" xml:space="preserve">30N</text>
<path class="tkm" d="M161.6,323.0v3.5M161.6,93.3v-3.5"/>
<path class="tkm" d="M148.8,323.0v3.5M148.8,93.3v-3.5"/>
<path class="tk" d="M136.1,323.0v6.6M136.1,93.3v-6.6"/>
<text x="136.1" y="342.2" font-size="8.4" text-anchor="middle" xml:space="preserve">60N</text>
<path class="tkm" d="M123.4,323.0v3.5M123.4,93.3v-3.5"/>
<path class="tkm" d="M110.6,323.0v3.5M110.6,93.3v-3.5"/>
<path class="tk" d="M97.9,323.0v6.6M97.9,93.3v-6.6"/>
<text x="97.9" y="342.2" font-size="8.4" text-anchor="middle" xml:space="preserve">90N</text>
<path class="tk" d="M97.9,93.3h-6.6"/>
<text x="85.9" y="96.5" font-size="8.4" text-anchor="end" xml:space="preserve">300</text>
<path class="tk" d="M97.9,126.1h-6.6"/>
<text x="85.9" y="129.3" font-size="8.4" text-anchor="end" xml:space="preserve">400</text>
<path class="tk" d="M97.9,158.9h-6.6"/>
<text x="85.9" y="162.1" font-size="8.4" text-anchor="end" xml:space="preserve">500</text>
<path class="tk" d="M97.9,224.6h-6.6"/>
<text x="85.9" y="227.8" font-size="8.4" text-anchor="end" xml:space="preserve">700</text>
<path class="tk" d="M97.9,273.8h-6.6"/>
<text x="85.9" y="277.0" font-size="8.4" text-anchor="end" xml:space="preserve">850</text>
<path class="tk" d="M97.9,323.0h-6.6"/>
<text x="85.9" y="326.2" font-size="8.4" text-anchor="end" xml:space="preserve">1000</text>
<path class="tk" d="M327.1,112.1h6.6"/>
<text x="341.6" y="115.2" font-size="8.4" text-anchor="middle" xml:space="preserve">8</text>
<path class="tk" d="M327.1,197.4h6.6"/>
<text x="341.6" y="200.5" font-size="8.4" text-anchor="middle" xml:space="preserve">4</text>
<text transform="translate(57.0,208.1) rotate(-90)" font-size="13" text-anchor="middle">Pressure (mb)</text>
<text transform="translate(359.4,208.1) rotate(-90)" font-size="13" text-anchor="middle">Height (km)</text>
<rect class="fr" x="419.6" y="93.3" width="229.4" height="229.7"/>
<text x="534.3" y="64.1" font-size="13" text-anchor="middle" xml:space="preserve">NCEP</text>
<text x="419.1" y="83.2" font-size="12" text-anchor="start" xml:space="preserve">relative humidity</text>
<text x="649.5" y="83.2" font-size="12" text-anchor="end" xml:space="preserve">percent</text>
<path class="tkm" d="M638.6,323.0v3.5M638.6,93.3v-3.5"/>
<path class="tkm" d="M625.5,323.0v3.5M625.5,93.3v-3.5"/>
<path class="tk" d="M612.5,323.0v6.6M612.5,93.3v-6.6"/>
<text x="612.5" y="342.2" font-size="8.4" text-anchor="middle" xml:space="preserve">60S</text>
<path class="tkm" d="M599.5,323.0v3.5M599.5,93.3v-3.5"/>
<path class="tkm" d="M586.4,323.0v3.5M586.4,93.3v-3.5"/>
<path class="tk" d="M573.4,323.0v6.6M573.4,93.3v-6.6"/>
<text x="573.4" y="342.2" font-size="8.4" text-anchor="middle" xml:space="preserve">30S</text>
<path class="tkm" d="M560.4,323.0v3.5M560.4,93.3v-3.5"/>
<path class="tkm" d="M547.3,323.0v3.5M547.3,93.3v-3.5"/>
<path class="tk" d="M534.3,323.0v6.6M534.3,93.3v-6.6"/>
<text x="534.3" y="342.2" font-size="8.4" text-anchor="middle" xml:space="preserve">0</text>
<path class="tkm" d="M521.3,323.0v3.5M521.3,93.3v-3.5"/>
<path class="tkm" d="M508.2,323.0v3.5M508.2,93.3v-3.5"/>
<path class="tk" d="M495.2,323.0v6.6M495.2,93.3v-6.6"/>
<text x="495.2" y="342.2" font-size="8.4" text-anchor="middle" xml:space="preserve">30N</text>
<path class="tkm" d="M482.2,323.0v3.5M482.2,93.3v-3.5"/>
<path class="tkm" d="M469.1,323.0v3.5M469.1,93.3v-3.5"/>
<path class="tk" d="M456.1,323.0v6.6M456.1,93.3v-6.6"/>
<text x="456.1" y="342.2" font-size="8.4" text-anchor="middle" xml:space="preserve">60N</text>
<path class="tkm" d="M443.1,323.0v3.5M443.1,93.3v-3.5"/>
<path class="tkm" d="M430.0,323.0v3.5M430.0,93.3v-3.5"/>
<path class="tk" d="M419.6,93.3h-6.6"/>
<text x="407.6" y="96.5" font-size="8.4" text-anchor="end" xml:space="preserve">300</text>
<path class="tk" d="M419.6,126.1h-6.6"/>
<text x="407.6" y="129.3" font-size="8.4" text-anchor="end" xml:space="preserve">400</text>
<path class="tk" d="M419.6,158.9h-6.6"/>
<text x="407.6" y="162.1" font-size="8.4" text-anchor="end" xml:space="preserve">500</text>
<path class="tk" d="M419.6,224.6h-6.6"/>
<text x="407.6" y="227.8" font-size="8.4" text-anchor="end" xml:space="preserve">700</text>
<path class="tk" d="M419.6,273.8h-6.6"/>
<text x="407.6" y="277.0" font-size="8.4" text-anchor="end" xml:space="preserve">850</text>
<path class="tk" d="M419.6,323.0h-6.6"/>
<text x="407.6" y="326.2" font-size="8.4" text-anchor="end" xml:space="preserve">1000</text>
<path class="tk" d="M649.0,112.1h6.6"/>
<text x="663.5" y="115.2" font-size="8.4" text-anchor="middle" xml:space="preserve">8</text>
<path class="tk" d="M649.0,197.4h6.6"/>
<text x="663.5" y="200.5" font-size="8.4" text-anchor="middle" xml:space="preserve">4</text>
<text transform="translate(378.7,208.1) rotate(-90)" font-size="13" text-anchor="middle">Pressure (mb)</text>
<text transform="translate(681.3,208.1) rotate(-90)" font-size="13" text-anchor="middle">Height (km)</text>
<rect class="fr" x="258.9" y="457.5" width="229.3" height="229.6"/>
<text x="373.5" y="428.3" font-size="13.2" text-anchor="middle" xml:space="preserve">f1850c5_m1a - NCEP</text>
<text x="258.4" y="447.4" font-size="12" text-anchor="start" xml:space="preserve">relative humidity</text>
<text x="488.7" y="447.4" font-size="12" text-anchor="end" xml:space="preserve">percent</text>
<path class="tkm" d="M477.8,687.1v3.5M477.8,457.5v-3.5"/>
<path class="tkm" d="M464.7,687.1v3.5M464.7,457.5v-3.5"/>
<path class="tk" d="M451.7,687.1v6.6M451.7,457.5v-6.6"/>
<text x="451.7" y="706.3" font-size="8.4" text-anchor="middle" xml:space="preserve">60S</text>
<path class="tkm" d="M438.7,687.1v3.5M438.7,457.5v-3.5"/>
<path class="tkm" d="M425.7,687.1v3.5M425.7,457.5v-3.5"/>
<path class="tk" d="M412.6,687.1v6.6M412.6,457.5v-6.6"/>
<text x="412.6" y="706.3" font-size="8.4" text-anchor="middle" xml:space="preserve">30S</text>
<path class="tkm" d="M399.6,687.1v3.5M399.6,457.5v-3.5"/>
<path class="tkm" d="M386.6,687.1v3.5M386.6,457.5v-3.5"/>
<path class="tk" d="M373.5,687.1v6.6M373.5,457.5v-6.6"/>
<text x="373.5" y="706.3" font-size="8.4" text-anchor="middle" xml:space="preserve">0</text>
<path class="tkm" d="M360.5,687.1v3.5M360.5,457.5v-3.5"/>
<path class="tkm" d="M347.5,687.1v3.5M347.5,457.5v-3.5"/>
<path class="tk" d="M334.5,687.1v6.6M334.5,457.5v-6.6"/>
<text x="334.5" y="706.3" font-size="8.4" text-anchor="middle" xml:space="preserve">30N</text>
<path class="tkm" d="M321.4,687.1v3.5M321.4,457.5v-3.5"/>
<path class="tkm" d="M308.4,687.1v3.5M308.4,457.5v-3.5"/>
<path class="tk" d="M295.4,687.1v6.6M295.4,457.5v-6.6"/>
<text x="295.4" y="706.3" font-size="8.4" text-anchor="middle" xml:space="preserve">60N</text>
<path class="tkm" d="M282.4,687.1v3.5M282.4,457.5v-3.5"/>
<path class="tkm" d="M269.3,687.1v3.5M269.3,457.5v-3.5"/>
<path class="tk" d="M258.9,457.5h-6.6"/>
<text x="246.9" y="460.7" font-size="8.4" text-anchor="end" xml:space="preserve">300</text>
<path class="tk" d="M258.9,490.3h-6.6"/>
<text x="246.9" y="493.5" font-size="8.4" text-anchor="end" xml:space="preserve">400</text>
<path class="tk" d="M258.9,523.1h-6.6"/>
<text x="246.9" y="526.3" font-size="8.4" text-anchor="end" xml:space="preserve">500</text>
<path class="tk" d="M258.9,588.7h-6.6"/>
<text x="246.9" y="591.9" font-size="8.4" text-anchor="end" xml:space="preserve">700</text>
<path class="tk" d="M258.9,637.9h-6.6"/>
<text x="246.9" y="641.1" font-size="8.4" text-anchor="end" xml:space="preserve">850</text>
<path class="tk" d="M258.9,687.1h-6.6"/>
<text x="246.9" y="690.3" font-size="8.4" text-anchor="end" xml:space="preserve">1000</text>
<path class="tk" d="M488.2,476.3h6.6"/>
<text x="502.7" y="479.4" font-size="8.4" text-anchor="middle" xml:space="preserve">8</text>
<path class="tk" d="M488.2,561.6h6.6"/>
<text x="502.7" y="564.7" font-size="8.4" text-anchor="middle" xml:space="preserve">4</text>
<text transform="translate(218.0,572.3) rotate(-90)" font-size="13" text-anchor="middle">Pressure (mb)</text>
<text transform="translate(520.5,572.3) rotate(-90)" font-size="13" text-anchor="middle">Height (km)</text>
<text x="212.8" y="354.3" font-size="10.5" text-anchor="middle" xml:space="preserve">MIN =  21.57  MAX = 109.15</text>
<text x="534.1" y="354.3" font-size="10.5" text-anchor="middle" xml:space="preserve">MIN =   6.89  MAX =  91.56</text>
<text x="513.4" y="480.5" font-size="10.5" text-anchor="start" xml:space="preserve">MIN = -10.79  MAX =  72.74</text>
<rect x="101.20" y="365.2" width="13.94" height="20.5" fill="#00008c" stroke="#000" stroke-width="0.6"/>
<rect x="115.14" y="365.2" width="13.94" height="20.5" fill="#0020b8" stroke="#000" stroke-width="0.6"/>
<rect x="129.09" y="365.2" width="13.94" height="20.5" fill="#0030e0" stroke="#000" stroke-width="0.6"/>
<rect x="143.03" y="365.2" width="13.94" height="20.5" fill="#1c50ff" stroke="#000" stroke-width="0.6"/>
<rect x="156.98" y="365.2" width="13.94" height="20.5" fill="#4278ff" stroke="#000" stroke-width="0.6"/>
<rect x="170.92" y="365.2" width="13.94" height="20.5" fill="#84a8ff" stroke="#000" stroke-width="0.6"/>
<rect x="184.86" y="365.2" width="13.94" height="20.5" fill="#b4ccff" stroke="#000" stroke-width="0.6"/>
<rect x="198.81" y="365.2" width="13.94" height="20.5" fill="#d6eaff" stroke="#000" stroke-width="0.6"/>
<rect x="212.75" y="365.2" width="13.94" height="20.5" fill="#ffead6" stroke="#000" stroke-width="0.6"/>
<rect x="226.69" y="365.2" width="13.94" height="20.5" fill="#ffccb2" stroke="#000" stroke-width="0.6"/>
<rect x="240.64" y="365.2" width="13.94" height="20.5" fill="#ffa880" stroke="#000" stroke-width="0.6"/>
<rect x="254.58" y="365.2" width="13.94" height="20.5" fill="#ff7840" stroke="#000" stroke-width="0.6"/>
<rect x="268.53" y="365.2" width="13.94" height="20.5" fill="#ff5018" stroke="#000" stroke-width="0.6"/>
<rect x="282.47" y="365.2" width="13.94" height="20.5" fill="#e23200" stroke="#000" stroke-width="0.6"/>
<rect x="296.41" y="365.2" width="13.94" height="20.5" fill="#bc2400" stroke="#000" stroke-width="0.6"/>
<rect x="310.36" y="365.2" width="13.94" height="20.5" fill="#8b0000" stroke="#000" stroke-width="0.6"/>
<text x="115.1" y="399.0" font-size="9.6" text-anchor="middle" xml:space="preserve">5</text>
<text x="143.0" y="399.0" font-size="9.6" text-anchor="middle" xml:space="preserve">15</text>
<text x="170.9" y="399.0" font-size="9.6" text-anchor="middle" xml:space="preserve">25</text>
<text x="198.8" y="399.0" font-size="9.6" text-anchor="middle" xml:space="preserve">40</text>
<text x="226.7" y="399.0" font-size="9.6" text-anchor="middle" xml:space="preserve">60</text>
<text x="254.6" y="399.0" font-size="9.6" text-anchor="middle" xml:space="preserve">75</text>
<text x="282.5" y="399.0" font-size="9.6" text-anchor="middle" xml:space="preserve">85</text>
<text x="310.4" y="399.0" font-size="9.6" text-anchor="middle" xml:space="preserve">95</text>
<rect x="422.90" y="365.2" width="13.94" height="20.5" fill="#00008c" stroke="#000" stroke-width="0.6"/>
<rect x="436.84" y="365.2" width="13.94" height="20.5" fill="#0020b8" stroke="#000" stroke-width="0.6"/>
<rect x="450.79" y="365.2" width="13.94" height="20.5" fill="#0030e0" stroke="#000" stroke-width="0.6"/>
<rect x="464.73" y="365.2" width="13.94" height="20.5" fill="#1c50ff" stroke="#000" stroke-width="0.6"/>
<rect x="478.67" y="365.2" width="13.94" height="20.5" fill="#4278ff" stroke="#000" stroke-width="0.6"/>
<rect x="492.62" y="365.2" width="13.94" height="20.5" fill="#84a8ff" stroke="#000" stroke-width="0.6"/>
<rect x="506.56" y="365.2" width="13.94" height="20.5" fill="#b4ccff" stroke="#000" stroke-width="0.6"/>
<rect x="520.51" y="365.2" width="13.94" height="20.5" fill="#d6eaff" stroke="#000" stroke-width="0.6"/>
<rect x="534.45" y="365.2" width="13.94" height="20.5" fill="#ffead6" stroke="#000" stroke-width="0.6"/>
<rect x="548.39" y="365.2" width="13.94" height="20.5" fill="#ffccb2" stroke="#000" stroke-width="0.6"/>
<rect x="562.34" y="365.2" width="13.94" height="20.5" fill="#ffa880" stroke="#000" stroke-width="0.6"/>
<rect x="576.28" y="365.2" width="13.94" height="20.5" fill="#ff7840" stroke="#000" stroke-width="0.6"/>
<rect x="590.23" y="365.2" width="13.94" height="20.5" fill="#ff5018" stroke="#000" stroke-width="0.6"/>
<rect x="604.17" y="365.2" width="13.94" height="20.5" fill="#e23200" stroke="#000" stroke-width="0.6"/>
<rect x="618.11" y="365.2" width="13.94" height="20.5" fill="#bc2400" stroke="#000" stroke-width="0.6"/>
<rect x="632.06" y="365.2" width="13.94" height="20.5" fill="#8b0000" stroke="#000" stroke-width="0.6"/>
<text x="436.8" y="399.0" font-size="9.6" text-anchor="middle" xml:space="preserve">5</text>
<text x="464.7" y="399.0" font-size="9.6" text-anchor="middle" xml:space="preserve">15</text>
<text x="492.6" y="399.0" font-size="9.6" text-anchor="middle" xml:space="preserve">25</text>
<text x="520.5" y="399.0" font-size="9.6" text-anchor="middle" xml:space="preserve">40</text>
<text x="548.4" y="399.0" font-size="9.6" text-anchor="middle" xml:space="preserve">60</text>
<text x="576.3" y="399.0" font-size="9.6" text-anchor="middle" xml:space="preserve">75</text>
<text x="604.2" y="399.0" font-size="9.6" text-anchor="middle" xml:space="preserve">85</text>
<text x="632.1" y="399.0" font-size="9.6" text-anchor="middle" xml:space="preserve">95</text>
<rect x="558.1" y="673.74" width="24.1" height="11.56" fill="#00008c" stroke="#000" stroke-width="0.6"/>
<rect x="558.1" y="662.17" width="24.1" height="11.56" fill="#0020b8" stroke="#000" stroke-width="0.6"/>
<rect x="558.1" y="650.61" width="24.1" height="11.56" fill="#0030e0" stroke="#000" stroke-width="0.6"/>
<rect x="558.1" y="639.05" width="24.1" height="11.56" fill="#1c50ff" stroke="#000" stroke-width="0.6"/>
<rect x="558.1" y="627.49" width="24.1" height="11.56" fill="#4278ff" stroke="#000" stroke-width="0.6"/>
<rect x="558.1" y="615.92" width="24.1" height="11.56" fill="#84a8ff" stroke="#000" stroke-width="0.6"/>
<rect x="558.1" y="604.36" width="24.1" height="11.56" fill="#b4ccff" stroke="#000" stroke-width="0.6"/>
<rect x="558.1" y="592.80" width="24.1" height="11.56" fill="#d6eaff" stroke="#000" stroke-width="0.6"/>
<rect x="558.1" y="581.24" width="24.1" height="11.56" fill="#ffead6" stroke="#000" stroke-width="0.6"/>
<rect x="558.1" y="569.67" width="24.1" height="11.56" fill="#ffccb2" stroke="#000" stroke-width="0.6"/>
<rect x="558.1" y="558.11" width="24.1" height="11.56" fill="#ffa880" stroke="#000" stroke-width="0.6"/>
<rect x="558.1" y="546.55" width="24.1" height="11.56" fill="#ff7840" stroke="#000" stroke-width="0.6"/>
<rect x="558.1" y="534.99" width="24.1" height="11.56" fill="#ff5018" stroke="#000" stroke-width="0.6"/>
<rect x="558.1" y="523.42" width="24.1" height="11.56" fill="#e23200" stroke="#000" stroke-width="0.6"/>
<rect x="558.1" y="511.86" width="24.1" height="11.56" fill="#bc2400" stroke="#000" stroke-width="0.6"/>
<rect x="558.1" y="500.30" width="24.1" height="11.56" fill="#8b0000" stroke="#000" stroke-width="0.6"/>
<text x="592.3" y="677.1" font-size="9.6" text-anchor="middle" xml:space="preserve">-50</text>
<text x="592.3" y="665.6" font-size="9.6" text-anchor="middle" xml:space="preserve">-40</text>
<text x="592.3" y="654.0" font-size="9.6" text-anchor="middle" xml:space="preserve">-30</text>
<text x="592.3" y="642.4" font-size="9.6" text-anchor="middle" xml:space="preserve">-20</text>
<text x="592.3" y="630.9" font-size="9.6" text-anchor="middle" xml:space="preserve">-15</text>
<text x="592.3" y="619.3" font-size="9.6" text-anchor="middle" xml:space="preserve">-10</text>
<text x="592.3" y="607.8" font-size="9.6" text-anchor="middle" xml:space="preserve">-5</text>
<text x="592.3" y="596.2" font-size="9.6" text-anchor="middle" xml:space="preserve">0</text>
<text x="592.3" y="584.6" font-size="9.6" text-anchor="middle" xml:space="preserve">5</text>
<text x="592.3" y="573.1" font-size="9.6" text-anchor="middle" xml:space="preserve">10</text>
<text x="592.3" y="561.5" font-size="9.6" text-anchor="middle" xml:space="preserve">15</text>
<text x="592.3" y="549.9" font-size="9.6" text-anchor="middle" xml:space="preserve">20</text>
<text x="592.3" y="538.4" font-size="9.6" text-anchor="middle" xml:space="preserve">30</text>
<text x="592.3" y="526.8" font-size="9.6" text-anchor="middle" xml:space="preserve">40</text>
<text x="592.3" y="515.3" font-size="9.6" text-anchor="middle" xml:space="preserve">50</text>
</g>
</svg>
</body></html>
